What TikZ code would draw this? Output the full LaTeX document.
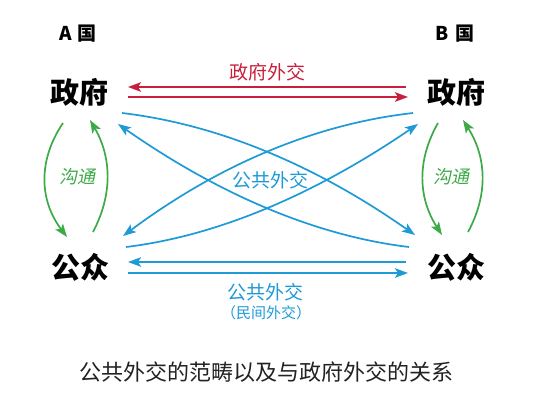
\documentclass[tikz,border=0pt]{standalone}
\usepackage{fontspec}
\newfontfamily\cjk{Noto Sans CJK SC}
\newfontfamily\cjkit{Noto Sans CJK SC}[FakeSlant=0.2]
\usetikzlibrary{arrows.meta}
\definecolor{dipred}{HTML}{C8203C}
\definecolor{pubblue}{HTML}{1E9AD6}
\definecolor{commgreen}{HTML}{3DAA48}
\definecolor{captxt}{HTML}{222222}
\begin{document}
\begin{tikzpicture}[x=1pt,y=-1pt,
  actor/.style={font=\cjk\bfseries\fontsize{29}{30}\selectfont, inner sep=0pt, text=black},
  country/.style={font=\cjk\bfseries\fontsize{19}{20}\selectfont, inner sep=0pt, text=black},
  lbl/.style={font=\cjk\fontsize{19}{20}\selectfont, inner sep=0pt},
  smalllbl/.style={font=\cjk\fontsize{15}{16}\selectfont, inner sep=0pt},
  commlbl/.style={font=\cjkit\fontsize{18}{19}\selectfont, inner sep=0pt, text=commgreen},
  tip/.style={-{Stealth[length=13pt,width=9.5pt,inset=3pt]}},
  redline/.style={draw=dipred, line width=2.2pt, tip},
  blueline/.style={draw=pubblue, line width=1.7pt, tip},
  greenline/.style={draw=commgreen, line width=1.7pt, tip},
]
\fill[white] (0,0) rectangle (536,405);
\useasboundingbox (0,0) rectangle (536,405);

% countries
\node[country] (CA) at (78,34) {A\hspace{6pt}国};
\node[country] (CB) at (455,34) {B\hspace{6pt}国};

% actors
\node[actor] (AG) at (79,92) {政府};
\node[actor] (BG) at (456,92) {政府};
\node[actor] (AP) at (80,267) {公众};
\node[actor] (BP) at (456,267) {公众};

% government diplomacy
\draw[redline] ([shift={(-50,-5)}]BG.center) -- ([shift={(49,-5)}]AG.center);
\draw[redline] ([shift={(49,5)}]AG.center) -- ([shift={(-48,5)}]BG.center);
\node[lbl, text=dipred] (GD) at (267,72) {政府外交};

% public (people-to-people) diplomacy
\draw[blueline] ([shift={(-50,-5)}]BP.center) -- ([shift={(48,-5)}]AP.center);
\draw[blueline] ([shift={(48,6)}]AP.center) -- ([shift={(-48,6)}]BP.center);
\node[lbl, text=pubblue] (PD1) at (265,292.5) {公共外交};
\node[smalllbl, text=pubblue] (PD2) at (266,313) {（民间外交）};

% crossing public diplomacy curves
\draw[blueline] ([shift={(43,21)}]AG.center) .. controls (217.7,124.3) and (315.3,165) .. ([shift={(-41,-32)}]BP.center);
\draw[blueline] ([shift={(-43,21)}]BG.center) .. controls (315,124) and (218.3,165) .. ([shift={(43,-31)}]AP.center);
\draw[blueline] ([shift={(46,-20)}]AP.center) .. controls (216.7,236) and (314,195) .. ([shift={(-38,32)}]BG.center);
\draw[blueline] ([shift={(-47,-20)}]BP.center) .. controls (316.7,236) and (219.7,195) .. ([shift={(39,32)}]AG.center);
\node[lbl, text=pubblue] (PDM) at (270,180) {公共外交};

% communication loops
\draw[greenline] ([shift={(-16,31)}]AG.center) .. controls (38,160) and (39,200) .. ([shift={(-13,-30)}]AP.center);
\draw[greenline] ([shift={(13,-35)}]AP.center) .. controls (112.7,194.7) and (111.7,157.3) .. ([shift={(11,28)}]AG.center);
\draw[greenline] ([shift={(-18,31)}]BG.center) .. controls (416.7,160.3) and (418,197.7) .. ([shift={(-14,-32)}]BP.center);
\draw[greenline] ([shift={(12,-35)}]BP.center) .. controls (488.3,194.7) and (486.7,157.3) .. ([shift={(7,28)}]BG.center);
\node[commlbl] (CMA) at (77,177) {沟通};
\node[commlbl] (CMB) at (451,177) {沟通};

% caption
\node[font=\cjk\fontsize{22}{24}\selectfont, inner sep=0pt, text=captxt] (CAP) at (266.5,372.5) {公共外交的范畴以及与政府外交的关系};
\end{tikzpicture}
\end{document}
